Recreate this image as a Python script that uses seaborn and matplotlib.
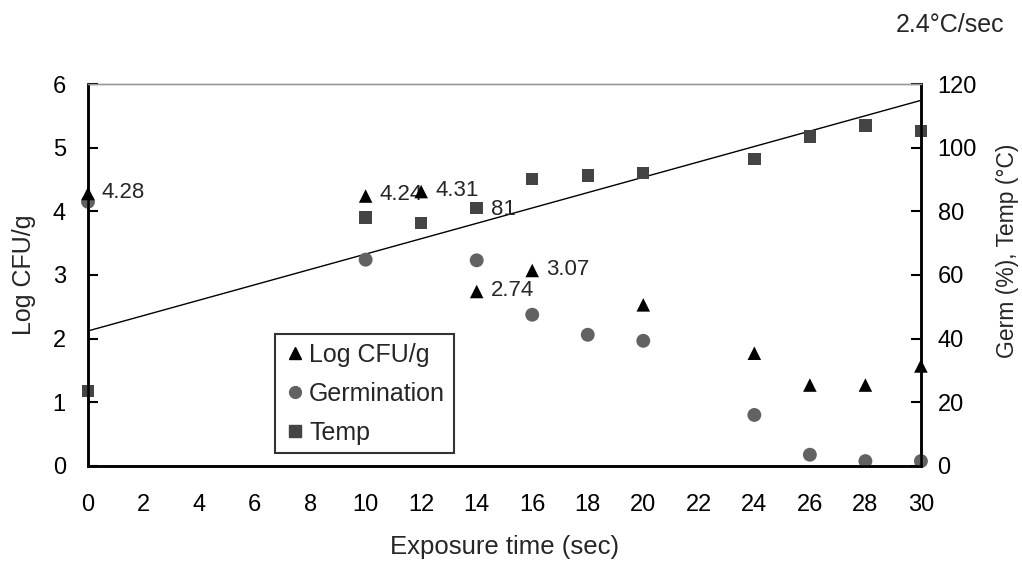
import numpy as np
import pandas as pd
import matplotlib
matplotlib.use("Agg")
import matplotlib.pyplot as plt
import seaborn as sns
from matplotlib.lines import Line2D

# data
time_cfu = [0, 10, 12, 14, 16, 20, 24, 26, 28, 30]
log_cfu = [4.28, 4.24, 4.31, 2.74, 3.07, 2.53, 1.77, 1.27, 1.27, 1.57]
cfu_labels = {0: "4.28", 10: "4.24", 12: "4.31", 14: "2.74", 16: "3.07"}

time_germ = [0, 10, 14, 16, 18, 20, 24, 26, 28, 30]
germination = [83, 64.8, 64.6, 47.5, 41.2, 39.3, 16, 3.5, 1.5, 1.5]

time_temp = [0, 10, 12, 14, 16, 18, 20, 24, 26, 28, 30]
temp = [23.6, 78, 76.4, 81, 90.2, 91.2, 92, 96.5, 103.5, 107, 105.3]
temp_labels = {14: "81"}

x_ticks = list(range(0, 31, 2))

sns.set_style("white")
plt.rcParams['font.family'] = ['Liberation Sans', 'DejaVu Sans']

cfu_df = pd.DataFrame({"t": time_cfu, "v": log_cfu})
germ_df = pd.DataFrame({"t": time_germ, "v": germination})
temp_df = pd.DataFrame({"t": time_temp, "v": temp})

fig = plt.figure(figsize=(10.22, 5.64), dpi=100)
ax = fig.add_axes([0.0861, 0.174, 0.8150, 0.677])
ax2 = ax.twinx()

# trend line for temperature (linear fit)
slope, icpt = np.polyfit(time_temp, temp, 1)
xs = np.array([0, 30])
ax2.plot(xs, slope * xs + icpt, color="black", lw=1.0, zorder=2)

sns.scatterplot(data=germ_df, x="t", y="v", ax=ax2, marker="o", s=100,
                color="#626262", edgecolor="none", clip_on=False, zorder=3, legend=False)
sns.scatterplot(data=temp_df, x="t", y="v", ax=ax2, marker="s", s=80,
                color="#444444", edgecolor="none", clip_on=False, zorder=3, legend=False)
ax2.set_ylim(0, 120)
ax2.set_yticks(range(0, 121, 20))

ax.set_zorder(ax2.get_zorder() + 1)
ax.patch.set_visible(False)
sns.scatterplot(data=cfu_df, x="t", y="v", ax=ax, marker="^", s=95,
                color="black", edgecolor="none", clip_on=False, zorder=4, legend=False)
ax.set_xlim(0, 30)
ax.set_ylim(0, 6)
ax.set_xticks(x_ticks)
ax.set_yticks(range(0, 7))

for t, lab in cfu_labels.items():
    v = log_cfu[time_cfu.index(t)]
    ax.annotate(lab, (t, v), xytext=(10, 1), textcoords="offset points",
                va="center", ha="left", fontsize=16)
for t, lab in temp_labels.items():
    v = temp[time_temp.index(t)]
    ax2.annotate(lab, (t, v), xytext=(10, -1), textcoords="offset points",
                 va="center", ha="left", fontsize=16)

for a in (ax, ax2):
    for s in ("left", "bottom", "right"):
        a.spines[s].set_color("black")
        a.spines[s].set_linewidth(1.8)
    a.spines["top"].set_color("#999999")
    a.spines["top"].set_linewidth(1.0)
    a.tick_params(direction="in", length=7, width=1.5, labelsize=17, colors="black")

ax.tick_params(axis="x", pad=20, top=False)
ax.tick_params(axis="y", pad=16, right=False)
ax2.tick_params(axis="y", pad=12, left=False)

ax.set_xlabel("Exposure time (sec)", fontsize=18.5, labelpad=14)
ax.set_ylabel("Log CFU/g", fontsize=18, labelpad=12)
ax2.set_ylabel("Germ (%), Temp (°C)", fontsize=16.5, rotation=90, va="center")
ax2.yaxis.set_label_coords(1.104, 0.563)
ax.grid(False)
ax2.grid(False)

fig.text(0.983, 0.956, "2.4°C/sec", ha="right", va="center", fontsize=18)

handles = [
    Line2D([], [], marker="^", ls="none", color="black", markersize=9),
    Line2D([], [], marker="o", ls="none", color="#626262", markersize=8.5),
    Line2D([], [], marker="s", ls="none", color="#444444", markersize=8),
]
leg = ax.legend(handles, ["Log CFU/g", "Germination", "Temp"],
                loc="lower left", bbox_to_anchor=(0.225, 0.033),
                fontsize=18, frameon=True, fancybox=False,
                handletextpad=0.1, handlelength=0.9, labelspacing=0.6,
                borderpad=0.35, borderaxespad=0)
leg.get_frame().set_edgecolor("black")
leg.get_frame().set_linewidth(1.5)

fig.savefig("out.png", dpi=100)
